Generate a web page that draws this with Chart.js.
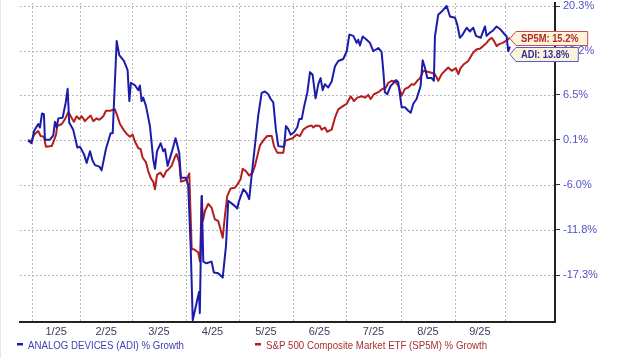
<!DOCTYPE html>
<html><head><meta charset="utf-8">
<script src="https://cdn.jsdelivr.net/npm/chart.js@4"></script>
<style>html,body{margin:0;padding:0;background:#fff}canvas{display:block}</style>
</head><body>
<canvas id="c" width="620" height="358"></canvas>
<script>
// ---- data (x = calendar days since Dec 30 2024, y = % growth) ----
const monthLabels = ['1/25','2/25','3/25','4/25','5/25','6/25','7/25','8/25','9/25'];
const monthStarts = [2.3, 30.3, 60.0, 91.2, 121.8, 152.9, 183.5, 215.3, 246.4, 275.3];
const yTickLabels = [20.3, 13.2, 6.5, 0.1, -6.0, -11.8, -17.3];
const seriesNames = ['ANALOG DEVICES (ADI) % Growth', 'S&P 500 Composite Market ETF (SP5M) % Growth'];
const shortNames = ['ADI', 'SP5M'];

const adiDays = [0,2.1,3.5,5.9,6.9,8.1,9.2,9.8,12.7,14.6,15.6,16.6,17.5,20.0,21.8,22.9,23.8,26.1,28.5,30.0,32.3,33.9,35.8,37.3,38.7,41.2,42.5,45.0,47.7,48.9,51.2,52.7,55.4,57.5,58.5,59.4,61.8,63.7,64.6,65.6,66.5,68.1,70.4,72.3,73.3,74.5,76.6,78.1,79.1,80.6,82.9,85.2,87.3,88.3,91.2,92.5,93.9,95.1,98.7,99.2,100.3,101.2,103.0,106.0,107.3,109.8,112.4,114.3,115.6,119.5,120.8,121.6,124.3,126.2,127.7,129.1,132.0,132.9,134.9,136.8,138.7,140.1,141.6,143.1,144.5,147.0,147.9,148.9,150.2,151.6,153.5,155.4,156.6,158.0,159.3,161.2,162.8,164.3,166.0,167.6,168.9,170.1,171.4,173.3,175.3,177.2,179.1,182.0,184.0,185.5,187.8,189.7,190.6,191.6,193.2,195.5,197.4,199.3,202.2,204.1,205.1,206.0,207.4,209.3,212.4,213.7,215.7,217.6,219.5,220.9,222.4,224.3,226.6,227.8,229.1,230.5,233.0,234.3,234.9,236.8,238.8,241.7,243.6,246.5,247.8,249.3,250.9,253.2,255.1,257.0,258.6,261.3,263.8,264.7,266.6,268.6,270.5,272.8,274.3,276.3,277.2,278.2];
const adiPct = [0,-0.4,1.3,2.3,1.8,3.8,3.7,0.1,0.1,0.7,2.6,1.8,3.1,3.2,5.4,7.4,2.5,1.5,-1.0,-0.9,-1.9,-3.1,-1.5,-2.8,-3.4,-3.6,-4.1,-1.2,1.0,1.0,14.7,12.5,11.6,10.2,5.6,8.3,7.9,7.2,7.9,5.6,6.1,4.9,2.0,-2.6,-3.9,-1.5,-0.4,-1.5,-1.2,-3.5,-1.7,0.3,-1.7,-5.1,-5.1,-6.1,-13.8,-22.5,-19.3,-21.7,-7.5,-15.7,-15.9,-15.7,-17.0,-17.1,-17.6,-13.8,-8.1,-8.8,-9.1,-8.3,-6.6,-7.1,-7.9,-4.8,1.5,3.5,6.8,7.0,6.6,5.9,5.4,1.5,-0.8,-0.9,-0.8,2.0,1.6,0.8,1.1,1.8,3.0,3.0,4.7,6.8,9.9,9.5,6.0,8.1,9.0,7.2,8.1,7.6,8.5,10.8,11.6,11.9,13.1,15.7,15.5,14.4,14.9,14.0,15.4,14.9,14.4,13.1,13.6,13.0,10.1,6.9,6.6,7.8,8.7,8.4,4.7,4.7,4.2,3.9,5.2,5.9,7.8,11.7,10.6,9.0,9.0,8.6,15.4,18.9,19.4,20.3,18.6,18.4,17.3,15.2,15.7,16.8,16.2,16.8,15.5,15.2,17.0,15.5,16.0,16.4,17.0,16.5,16.0,15.4,13.1,13.8];

const spDays = [0,2.1,3.5,5.9,7.3,9.2,10.4,13.7,14.6,16.2,16.9,19.5,21.4,23.3,25.2,26.5,28.1,29.6,31.0,32.9,34.8,36.2,37.7,39.6,41.2,43.5,45.0,47.3,50.2,51.2,53.1,55.4,57.0,58.9,60.4,61.8,63.7,65.0,66.2,68.1,69.4,71.0,72.3,73.3,74.5,76.4,78.2,79.8,81.0,82.9,84.8,85.8,87.3,88.3,90.0,91.6,93.1,94.5,95.8,98.3,99.3,100.3,101.0,102.2,104.1,106.0,107.9,109.8,111.2,112.4,113.7,115.0,117.0,119.5,120.8,122.7,123.9,125.8,127.7,129.7,131.0,133.9,136.2,138.1,140.7,142.0,143.9,147.4,148.3,150.2,152.8,155.1,157.0,158.9,161.2,163.7,164.7,166.2,168.5,169.5,171.4,172.7,175.3,177.2,179.1,182.0,184.0,186.3,188.2,190.1,192.6,194.5,196.4,197.8,199.7,202.2,204.1,206.6,208.0,209.9,211.8,213.7,215.7,217.6,219.5,221.5,222.8,224.7,226.3,228.2,230.1,233.0,234.9,236.8,238.8,240.7,242.6,244.6,247.0,248.4,249.7,251.6,254.1,257.0,259.0,260.9,262.8,264.7,266.2,267.6,269.0,270.5,272.0,274.0,275.9,278.2];
const spPct = [0,-0.1,0.8,1.3,0.6,0.5,-0.9,-0.8,-0.3,0.8,2.0,2.3,3.0,4.0,3.2,2.6,3.4,3.0,3.4,2.7,3.2,3.5,2.7,3.1,2.9,3.4,4.2,4.2,4.4,3.7,2.3,1.4,0.9,0.5,0.8,-0.2,-1.1,-1.2,-2.4,-3.0,-4.2,-5.2,-5.6,-6.6,-4.7,-4.4,-5.0,-4.2,-4.0,-3.5,-2.3,-1.9,-3.0,-5.6,-5.5,-5.3,-4.5,-14.2,-14.2,-14.6,-15.7,-7.5,-10.7,-9.4,-8.5,-9.0,-10.5,-10.7,-11.8,-12.8,-10.0,-7.5,-6.5,-6.4,-6.0,-5.3,-3.9,-4.2,-4.8,-4.4,-3.5,-0.7,0.1,0.6,0.6,-0.8,-1.7,-1.7,-0.1,0.1,0.3,0.8,0.6,1.5,1.9,2.1,1.8,2.1,2.0,1.5,1.8,1.2,1.5,3.2,4.4,4.9,5.2,6.3,5.6,6.1,6.3,6.1,6.5,5.9,6.6,6.9,7.3,7.6,8.3,8.6,8.5,7.9,6.4,7.4,7.6,8.1,8.0,8.6,9.0,10.1,10.0,9.8,9.6,8.6,9.6,10.1,10.6,10.1,10.5,9.6,10.5,11.1,11.6,12.9,13.4,13.5,13.9,14.4,14.9,15.2,14.7,13.9,14.2,14.4,14.7,15.2];

// ---- scale setup ----
const LEVEL_OFFSET = 115;          // growth plotted on a log scale of (offset + %)
const X_MIN = -4.6, X_MAX = 304.2;
const Y_MIN = -22.7, Y_MAX = 20.8;
const FONT = '"Liberation Sans", Arial, Helvetica, sans-serif';
const BLUE = '#1c1cac', RED = '#b41e1e';
const GRID = '#b8b8b8';

const toPts = (xs, ys) => xs.map((x, i) => ({x, y: ys[i] + LEVEL_OFFSET}));
const monthMids = monthLabels.map((_, i) => (monthStarts[i] + monthStarts[i + 1]) / 2);
const labelAt = new Map(monthMids.map((v, i) => [v, monthLabels[i]]));

// dashed grid drawn under the series
const dashedGrid = {
  id: 'dashedGrid',
  beforeDatasetsDraw(chart) {
    const {ctx, chartArea: a, scales: {x, y}} = chart;
    ctx.save();
    ctx.strokeStyle = GRID;
    ctx.lineWidth = 1;
    ctx.setLineDash([2, 2]);
    ctx.beginPath();
    monthStarts.forEach(v => {
      const px = Math.round(x.getPixelForValue(v)) + 0.5;
      ctx.moveTo(px, a.top); ctx.lineTo(px, a.bottom);
    });
    yTickLabels.forEach(v => {
      const py = Math.round(y.getPixelForValue(v + LEVEL_OFFSET)) + 0.5;
      ctx.moveTo(a.left, py); ctx.lineTo(a.right, py);
    });
    ctx.stroke();
    ctx.restore();
  }
};

const extras = {
  id: 'extras',
  afterDraw(chart) {
    const {ctx, scales: {x, y}} = chart;
    ctx.save();
    ctx.fillStyle = '#e3e8ef';
    ctx.fillRect(0, 0, 1, chart.height);
    // legend
    const legendY = 349;
    ctx.font = '11px ' + FONT;
    ctx.textBaseline = 'alphabetic';
    const leg = [
      {x: 17, color: BLUE, text: '#4040b4', name: seriesNames[0]},
      {x: 255, color: RED, text: '#a83030', name: seriesNames[1]}
    ];
    leg.forEach(l => {
      ctx.fillStyle = l.color;
      ctx.fillRect(l.x, 343, 6, 2.5);
      ctx.fillStyle = l.text;
      const w = ctx.measureText(l.name).width;
      ctx.fillText(l.name, l.x + 11, legendY, w * 0.88);
    });
    // end-value flags
    const flags = [
      {name: shortNames[1], xv: spDays[spDays.length - 1], yv: spPct[spPct.length - 1], stroke: '#c85050', color: '#b02828'},
      {name: shortNames[0], xv: adiDays[adiDays.length - 1], yv: adiPct[adiPct.length - 1], stroke: '#5a5ac8', color: '#3030a0'}
    ];
    ctx.font = 'bold 11px ' + FONT;
    const h = 14;
    let prevBottom = -Infinity;
    flags.forEach(f => {
      const tipX = x.getPixelForValue(f.xv);
      let cy = y.getPixelForValue(f.yv + LEVEL_OFFSET);
      if (cy - h / 2 < prevBottom + 2) cy = prevBottom + 2 + h / 2;
      prevBottom = cy + h / 2;
      const text = f.name + ': ' + f.yv.toFixed(1) + '%';
      const tw = ctx.measureText(text).width * 0.85;
      const left = tipX + 6, right = tipX + 11 + tw + 9;
      const top = Math.round(cy - h / 2) + 0.5, bot = top + h;
      ctx.beginPath();
      ctx.moveTo(tipX, (top + bot) / 2);
      ctx.lineTo(left, top);
      ctx.lineTo(right, top);
      ctx.lineTo(right, bot);
      ctx.lineTo(left, bot);
      ctx.closePath();
      ctx.fillStyle = '#fcf4da';
      ctx.fill();
      ctx.strokeStyle = f.stroke;
      ctx.lineWidth = 1;
      ctx.stroke();
      ctx.fillStyle = f.color;
      ctx.fillText(text, tipX + 11, cy + 4, tw);
    });
    ctx.restore();
  }
};

new Chart(document.getElementById('c'), {
  type: 'line',
  data: {
    datasets: [
      {label: seriesNames[0], data: toPts(adiDays, adiPct), borderColor: BLUE, borderWidth: 2,
       pointRadius: 0, tension: 0, borderJoinStyle: 'round', fill: false},
      {label: seriesNames[1], data: toPts(spDays, spPct), borderColor: RED, borderWidth: 2,
       pointRadius: 0, tension: 0, borderJoinStyle: 'round', fill: false}
    ]
  },
  options: {
    responsive: false,
    animation: false,
    devicePixelRatio: 1,
    layout: {padding: {left: 20, top: 3, right: 0, bottom: 0}},
    plugins: {legend: {display: false}, tooltip: {enabled: false}},
    scales: {
      x: {
        type: 'linear',
        min: X_MIN, max: X_MAX,
        afterBuildTicks: s => { s.ticks = monthMids.map(v => ({value: v})); },
        afterFit: s => { s.height = 36; s.paddingLeft = 0; s.paddingRight = 0; },
        ticks: {
          autoSkip: false, maxRotation: 0, padding: 3,
          color: '#3c3c5c', font: {family: FONT, size: 11},
          callback: v => labelAt.get(v) || ''
        },
        grid: {drawTicks: false, drawOnChartArea: false},
        border: {display: true, color: '#222', width: 2}
      },
      y: {
        type: 'logarithmic',
        position: 'right',
        min: Y_MIN + LEVEL_OFFSET, max: Y_MAX + LEVEL_OFFSET,
        afterBuildTicks: s => { s.ticks = yTickLabels.map(v => ({value: v + LEVEL_OFFSET})); },
        afterFit: s => { s.width = 65; s.paddingTop = 0; s.paddingBottom = 0; },
        ticks: {
          padding: 3, color: '#5050c4', font: {family: FONT, size: 11},
          callback: v => (v - LEVEL_OFFSET).toFixed(1) + '%'
        },
        grid: {
          drawOnChartArea: false, drawTicks: true, tickLength: 5,
          tickColor: '#333', tickWidth: 1, color: '#333'
        },
        border: {display: true, color: '#222', width: 2}
      }
    }
  },
  plugins: [dashedGrid, extras]
});
</script>
</body></html>
